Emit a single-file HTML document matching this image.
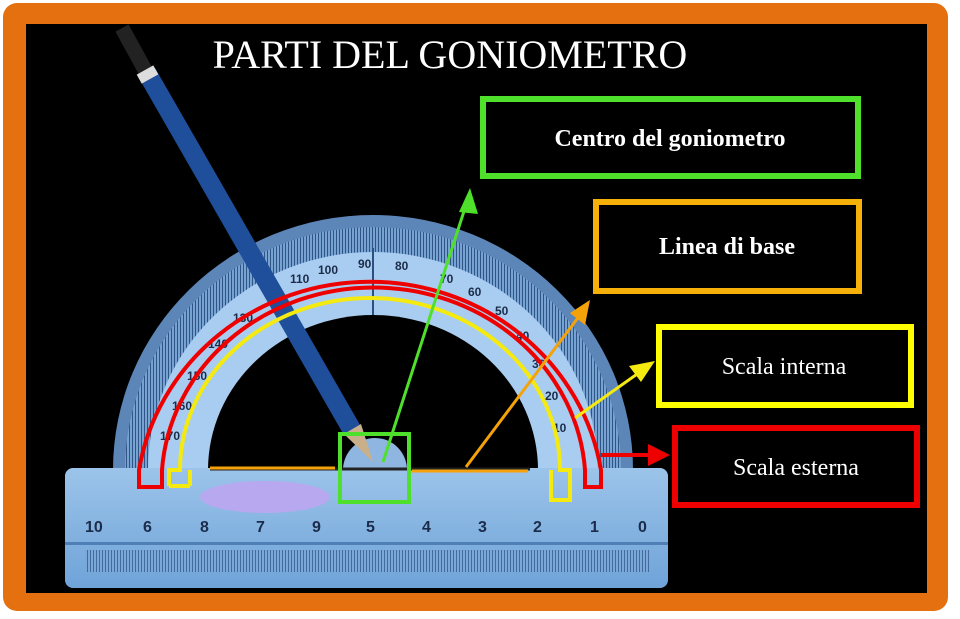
<!DOCTYPE html>
<html><head><meta charset="utf-8"><style>
html,body{margin:0;padding:0;background:#fff;width:960px;height:619px;overflow:hidden}
svg{display:block}
text{font-family:"Liberation Serif",serif;fill:#fff}
text.d{fill:#1b2c4a;font-family:"Liberation Sans",sans-serif;font-weight:bold}
</style></head><body>
<svg width="960" height="619" viewBox="0 0 960 619" xmlns="http://www.w3.org/2000/svg">
<defs>
<linearGradient id="pb" x1="0" y1="0" x2="0" y2="1">
<stop offset="0" stop-color="#9cc4ea"/><stop offset="1" stop-color="#6fa3d8"/></linearGradient>
<pattern id="tk" width="3" height="3" patternUnits="userSpaceOnUse"><rect width="3" height="3" fill="#7aa6d6"/><rect width="1" height="3" fill="#2c4f80"/></pattern>
</defs>
<rect x="3" y="3" width="945" height="608" rx="14" fill="#e4700f"/>
<rect x="26" y="24" width="901" height="569" fill="#000"/>
<text x="450" y="68" font-size="40" text-anchor="middle">PARTI DEL GONIOMETRO</text>
<!-- protractor -->
<path d="M113 470 A260 255 0 0 1 633 470 Z" fill="#5d86b8"/>
<path d="M125 470 A248 243 0 0 1 621 470 Z" fill="url(#tk)" opacity="0.9"/>
<path d="M148 470 A225 218 0 0 1 598 470 Z" fill="#a9cdf0"/>
<path d="M208 470 A165 155 0 0 1 538 470 Z" fill="#000"/>
<path d="M343 470 A32 32 0 0 1 407 470 Z" fill="#8fb6e0"/>
<line x1="373" y1="248" x2="373" y2="315" stroke="#2c4f80" stroke-width="2"/>
<g font-size="12">
<text class="d" x="358" y="268">90</text><text class="d" x="395" y="270">80</text>
<text class="d" x="318" y="274">100</text><text class="d" x="290" y="283">110</text>
<text class="d" x="440" y="283">70</text><text class="d" x="468" y="296">60</text>
<text class="d" x="495" y="315">50</text><text class="d" x="516" y="340">40</text>
<text class="d" x="233" y="322">130</text><text class="d" x="208" y="348">140</text>
<text class="d" x="187" y="380">150</text><text class="d" x="172" y="410">160</text>
<text class="d" x="532" y="368">30</text><text class="d" x="545" y="400">20</text>
<text class="d" x="553" y="432">10</text><text class="d" x="160" y="440">170</text>
</g>
<!-- ruler -->
<rect x="65" y="468" width="603" height="120" rx="8" fill="url(#pb)"/>
<rect x="65" y="542" width="603" height="3" fill="#4f7fb5"/>
<ellipse cx="265" cy="497" rx="65" ry="16" fill="#b7a8f0"/>
<g font-size="16">
<text class="d" x="85" y="532">10</text>
<text class="d" x="143" y="532">6</text><text class="d" x="200" y="532">8</text>
<text class="d" x="256" y="532">7</text><text class="d" x="312" y="532">9</text>
<text class="d" x="366" y="532">5</text><text class="d" x="422" y="532">4</text>
<text class="d" x="478" y="532">3</text><text class="d" x="533" y="532">2</text>
<text class="d" x="590" y="532">1</text><text class="d" x="638" y="532">0</text>
</g>
<rect x="85" y="550" width="565" height="22" fill="url(#tk)" opacity="0.7"/>
<line x1="210" y1="469" x2="530" y2="469" stroke="#222" stroke-width="3"/>
<!-- pencil -->
<line x1="122" y1="28" x2="145" y2="70" stroke="#222" stroke-width="15"/>
<line x1="147" y1="73" x2="352" y2="430" stroke="#1f4f9a" stroke-width="19"/>
<line x1="145" y1="70" x2="150" y2="79" stroke="#ddd" stroke-width="19"/>
<path d="M344 434 L361 424 L373 462 Z" fill="#c9b08a"/>
<!-- colored arcs -->
<path d="M139 487 L139 470 A234 224 0 0 1 601 470 L601 487 L585 487 L585 470 A212 196 0 0 0 162 470 L162 487 Z" fill="none" stroke="#e00" stroke-width="4"/>
<path d="M169 486 L169 470 L180 470 A190 172 0 0 1 560 470 L570 470 L570 500 L551 500 L551 470 M190 470 L190 486 Z" fill="none" stroke="#f4ea10" stroke-width="4"/>
<path d="M169 486 L190 486" stroke="#f4ea10" stroke-width="4"/>
<line x1="210" y1="468" x2="335" y2="468" stroke="#f5a20a" stroke-width="3"/>
<line x1="412" y1="471" x2="528" y2="471" stroke="#f5a20a" stroke-width="3"/>
<rect x="340" y="434" width="69" height="68" fill="none" stroke="#4ee02a" stroke-width="4"/>
<!-- arrows -->
<line x1="383" y1="462" x2="466" y2="205" stroke="#4ee02a" stroke-width="3"/>
<path d="M470 188 L459 212 L478 214 Z" fill="#4ee02a"/>
<line x1="466" y1="467" x2="580" y2="315" stroke="#f5a20a" stroke-width="3"/>
<path d="M590 300 L570 313 L585 325 Z" fill="#f5a20a"/>
<line x1="575" y1="418" x2="640" y2="372" stroke="#f4ea10" stroke-width="3"/>
<path d="M655 361 L629 366 L641 382 Z" fill="#f4ea10"/>
<line x1="601" y1="455" x2="650" y2="455" stroke="#e00" stroke-width="4"/>
<path d="M670 455 L648 444 L648 466 Z" fill="#e00"/>
<!-- boxes -->
<rect x="483" y="99" width="375" height="77" fill="#000" stroke="#4ee02a" stroke-width="6"/>
<text x="670" y="146" font-size="24" font-weight="bold" text-anchor="middle">Centro del goniometro</text>
<rect x="596" y="202" width="263" height="89" fill="#000" stroke="#f5b00a" stroke-width="6"/>
<text x="727" y="254" font-size="24" font-weight="bold" text-anchor="middle">Linea di base</text>
<rect x="659" y="327" width="252" height="78" fill="#000" stroke="#ffff00" stroke-width="6"/>
<text x="784" y="374" font-size="24" text-anchor="middle">Scala interna</text>
<rect x="675" y="428" width="242" height="77" fill="#000" stroke="#ee0000" stroke-width="6"/>
<text x="796" y="475" font-size="24" text-anchor="middle">Scala esterna</text>
</svg>
</body></html>
